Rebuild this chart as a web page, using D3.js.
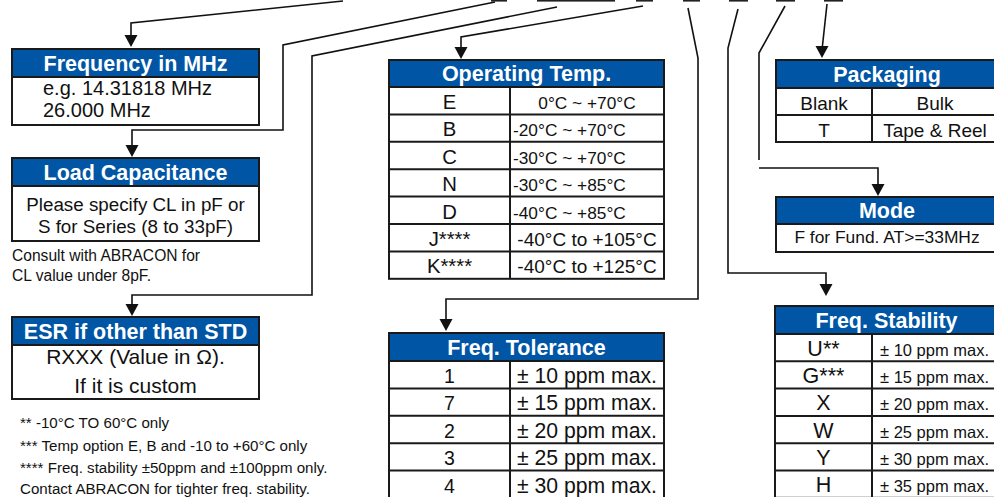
<!DOCTYPE html>
<html>
<head>
<meta charset="utf-8">
<script src="https://cdn.jsdelivr.net/npm/d3@7"></script>
<style>
  body { margin: 0; background: #fff; }
  svg { display: block; }
  text { font-family: "Liberation Sans", Arial, Helvetica, sans-serif; }
</style>
</head>
<body>
<div id="chart"></div>
<script>
// Part number option tables
const tempTitle = "Operating Temp.";
const tempCodes = ["E", "B", "C", "N", "D", "J****", "K****"];
const tempRanges = ["0°C ~ +70°C", "-20°C ~ +70°C", "-30°C ~ +70°C", "-30°C ~ +85°C",
    "-40°C ~ +85°C", "-40°C to +105°C", "-40°C to +125°C"];

const tolTitle = "Freq. Tolerance";
const tolCodes = ["1", "7", "2", "3", "4"];
const tolValues = ["± 10 ppm max.", "± 15 ppm max.", "± 20 ppm max.", "± 25 ppm max.", "± 30 ppm max."];

const stabTitle = "Freq. Stability";
const stabCodes = ["U**", "G***", "X", "W", "Y", "H"];
const stabValues = ["± 10 ppm max.", "± 15 ppm max.", "± 20 ppm max.", "± 25 ppm max.",
    "± 30 ppm max.", "± 35 ppm max."];

const packTitle = "Packaging";
const packCodes = ["Blank", "T"];
const packValues = ["Bulk", "Tape & Reel"];

// Text boxes
const freqTitle = "Frequency in MHz";
const freqLines = ["e.g. 14.31818 MHz", "26.000 MHz"];
const loadTitle = "Load Capacitance";
const loadLines = ["Please specify CL in pF or", "S for Series (8 to 33pF)"];
const consultLines = ["Consult with ABRACON for", "CL value under 8pF."];
const esrTitle = "ESR if other than STD";
const esrLines = ["RXXX (Value in Ω).", "If it is custom"];
const modeTitle = "Mode";
const modeLines = ["F for Fund. AT>=33MHz"];
const notes = ["** -10°C TO 60°C only",
    "*** Temp option E, B and -10 to +60°C only",
    "**** Freq. stability ±50ppm and ±100ppm only.",
    "Contact ABRACON for tighter freq. stability."];

const width = 994;
const height = 497;
const blue = "#0055a5";
const ink = "#1a1a1a";

const svg = d3.select("#chart").append("svg")
    .attr("width", width)
    .attr("height", height)
    .style("overflow", "hidden");

const lines = svg.append("g");
const boxes = svg.append("g");

// Header + outline shared by every box
function frame(x0, x1, top, headH, bottom, title) {
    const g = boxes.append("g");
    g.append("rect")
        .attr("x", x0).attr("y", top)
        .attr("width", x1 - x0).attr("height", bottom - top)
        .attr("fill", "#fff");
    g.append("rect")
        .attr("x", x0).attr("y", top)
        .attr("width", x1 - x0).attr("height", headH)
        .attr("fill", blue);
    g.append("text")
        .attr("x", (x0 + x1) / 2).attr("y", top + headH * 0.79)
        .attr("text-anchor", "middle")
        .attr("fill", "#fff")
        .attr("font-weight", "bold")
        .attr("font-size", 21.5)
        .text(title);
    g.append("line")
        .attr("x1", x0).attr("x2", x1)
        .attr("y1", top + headH).attr("y2", top + headH)
        .attr("stroke", ink).attr("stroke-width", 2);
    g.append("rect")
        .attr("x", x0).attr("y", top)
        .attr("width", x1 - x0).attr("height", bottom - top)
        .attr("fill", "none")
        .attr("stroke", ink).attr("stroke-width", 2);
    return g;
}

// Two column code table
function table(cfg) {
    const n = cfg.codes.length;
    const y = d3.scaleLinear()
        .domain([0, n])
        .range([cfg.top + cfg.headH, cfg.top + cfg.headH + n * cfg.rowH]);
    const g = frame(cfg.x0, cfg.x1, cfg.top, cfg.headH, y(n), cfg.title);

    g.selectAll("line.row")
        .data(d3.range(1, n))
        .enter().append("line")
        .attr("class", "row")
        .attr("x1", cfg.x0).attr("x2", cfg.x1)
        .attr("y1", d => y(d)).attr("y2", d => y(d))
        .attr("stroke", ink).attr("stroke-width", 2);
    g.append("line")
        .attr("x1", cfg.xDiv).attr("x2", cfg.xDiv)
        .attr("y1", y(0)).attr("y2", y(n))
        .attr("stroke", ink).attr("stroke-width", 2);

    g.selectAll("text.code")
        .data(cfg.codes)
        .enter().append("text")
        .attr("class", "code")
        .attr("x", (cfg.x0 + cfg.xDiv) / 2)
        .attr("y", (d, i) => y(i) + cfg.rowH * 0.8)
        .attr("text-anchor", "middle")
        .attr("font-size", cfg.codeSize)
        .attr("fill", "#111")
        .text(d => d);

    g.selectAll("text.val")
        .data(cfg.values)
        .enter().append("text")
        .attr("class", "val")
        .attr("x", (d, i) => cfg.align(i) === "start" ? cfg.xDiv + cfg.pad : (cfg.xDiv + cfg.x1) / 2)
        .attr("y", (d, i) => y(i) + cfg.rowH * 0.8)
        .attr("text-anchor", (d, i) => cfg.align(i))
        .attr("font-size", (d, i) => cfg.valSize(i))
        .attr("fill", "#111")
        .text(d => d);
}

// Text box with free lines
function textBox(cfg) {
    const g = frame(cfg.x0, cfg.x1, cfg.top, cfg.headH, cfg.bottom, cfg.title);
    g.selectAll("text.body")
        .data(cfg.lines)
        .enter().append("text")
        .attr("class", "body")
        .attr("x", cfg.anchor === "middle" ? (cfg.x0 + cfg.x1) / 2 : cfg.tx)
        .attr("y", (d, i) => cfg.base + i * cfg.lineH)
        .attr("text-anchor", cfg.anchor)
        .attr("font-size", cfg.size)
        .attr("fill", "#111")
        .text(d => d);
}

table({ x0: 389, x1: 664, xDiv: 510, top: 60, headH: 27, rowH: 27.4, title: tempTitle,
    codes: tempCodes, values: tempRanges, codeSize: 20.3, pad: 3,
    align: i => (i >= 1 && i <= 4) ? "start" : "middle",
    valSize: i => i >= 5 ? 19 : 17.3 });

table({ x0: 389, x1: 664, xDiv: 510, top: 333, headH: 28, rowH: 27.4, title: tolTitle,
    codes: tolCodes, values: tolValues, codeSize: 19.5, pad: 7,
    align: () => "start", valSize: () => 21.2 });

table({ x0: 775, x1: 998, xDiv: 872, top: 306, headH: 28, rowH: 27.3, title: stabTitle,
    codes: stabCodes, values: stabValues, codeSize: 21.5, pad: 8,
    align: () => "start", valSize: () => 16.5 });

table({ x0: 776, x1: 998, xDiv: 872, top: 60, headH: 28, rowH: 27, title: packTitle,
    codes: packCodes, values: packValues, codeSize: 19, pad: 8,
    align: () => "middle", valSize: () => 19 });

textBox({ x0: 12, x1: 259, top: 49, headH: 28, bottom: 125, title: freqTitle,
    lines: freqLines, anchor: "start", tx: 43, base: 95, lineH: 22, size: 20 });

textBox({ x0: 12, x1: 259, top: 158, headH: 28, bottom: 241, title: loadTitle,
    lines: loadLines, anchor: "middle", base: 211, lineH: 21.5, size: 18.8 });

textBox({ x0: 12, x1: 259, top: 317, headH: 28, bottom: 399, title: esrTitle,
    lines: esrLines, anchor: "middle", base: 364, lineH: 28.5, size: 21 });

textBox({ x0: 776, x1: 998, top: 197, headH: 27, bottom: 252, title: modeTitle,
    lines: modeLines, anchor: "middle", base: 243, lineH: 20, size: 17.4 });

// Loose text
svg.selectAll("text.consult")
    .data(consultLines)
    .enter().append("text")
    .attr("class", "consult")
    .attr("x", 12).attr("y", (d, i) => 261 + i * 19.5)
    .attr("font-size", 15.6)
    .attr("fill", "#111")
    .text(d => d);

svg.selectAll("text.note")
    .data(notes)
    .enter().append("text")
    .attr("class", "note")
    .attr("x", 20).attr("y", (d, i) => [428, 450.5, 472.5, 494][i])
    .attr("font-size", 15.1)
    .attr("fill", "#111")
    .text(d => d);

// Part number underscores cut at the top edge
const slots = [[491, 507], [537, 615], [636, 653], [683, 700], [729, 748], [776, 795], [824, 843]];
svg.selectAll("rect.slot")
    .data(slots)
    .enter().append("rect")
    .attr("class", "slot")
    .attr("x", d => d[0]).attr("y", 0)
    .attr("width", d => d[1] - d[0]).attr("height", 1.6)
    .attr("fill", "#222");

// Connector lines
const connectors = [
    { pts: [[343, 1], [131, 23], [131, 47]], arrow: true },
    { pts: [[495, 2], [283, 45], [283, 130], [132, 130], [132, 157]], arrow: true },
    { pts: [[557, 7], [312, 56], [312, 295], [132, 295], [132, 316]], arrow: true },
    { pts: [[643, 6], [461, 37], [461, 59]], arrow: true },
    { pts: [[688, 8], [698, 58], [698, 299], [446, 299], [446, 331]], arrow: true },
    { pts: [[738, 9], [728, 48], [728, 273], [826, 273], [826, 296]], arrow: true },
    { pts: [[785, 6], [759, 53], [759, 160]], arrow: false },
    { pts: [[759, 168], [878, 168], [878, 196]], arrow: true },
    { pts: [[827, 4], [822, 58]], arrow: true }
];

const lineGen = d3.line();
connectors.forEach(c => {
    const pts = c.pts.slice();
    const tip = pts[pts.length - 1];
    if (c.arrow) pts[pts.length - 1] = [tip[0], tip[1] - 8];
    lines.append("path")
        .attr("d", lineGen(pts))
        .attr("fill", "none")
        .attr("stroke", "#111")
        .attr("stroke-width", 1.6);
    if (c.arrow) {
        lines.append("path")
            .attr("d", lineGen([[tip[0] - 6.5, tip[1] - 12], [tip[0] + 6.5, tip[1] - 12], [tip[0], tip[1]]]) + "Z")
            .attr("fill", "#111");
    }
});
</script>
</body>
</html>
